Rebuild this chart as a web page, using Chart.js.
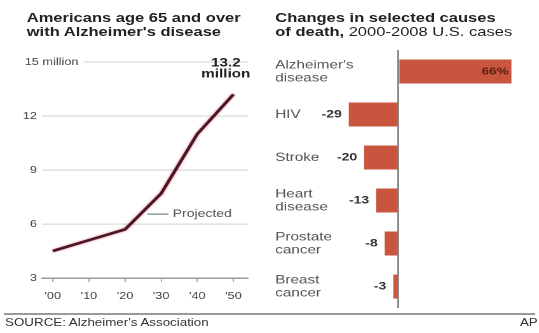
<!DOCTYPE html>
<html>
<head>
<meta charset="utf-8">
<script src="https://cdn.jsdelivr.net/npm/chart.js@4/dist/chart.umd.min.js"></script>
<style>
  body { margin: 0; background: #fff; font-family: "Liberation Sans", Arial, sans-serif; }
  #wrap { position: absolute; left: 0; top: 0; width: 424px; height: 333px; transform: scaleX(1.2712); transform-origin: 0 0; }
  .title { position: absolute; top: 11px; font-size: 13px; line-height: 14px; font-weight: bold; color: #222; white-space: nowrap; }
  .title span { font-weight: normal; }
  #leftBox { position: absolute; left: 0; top: 40px; width: 212px; height: 270px; }
  #rightBox { position: absolute; left: 212px; top: 40px; width: 212px; height: 275px; }
  #rule { position: absolute; left: 3px; top: 313px; width: 418px; height: 2px; background: #9a9a9a; }
  .foot { position: absolute; top: 316px; font-size: 10.5px; color: #333; white-space: nowrap; }
</style>
</head>
<body>
<div id="wrap">
  <div class="title" style="left:21px">Americans age 65 and over<br>with Alzheimer's disease</div>
  <div class="title" style="left:216.5px">Changes in selected causes<br>of death,<span> 2000-2008 U.S. cases</span></div>
  <div id="leftBox"><canvas id="lineChart"></canvas></div>
  <div id="rightBox"><canvas id="barChart"></canvas></div>
  <div id="rule"></div>
  <div class="foot" style="left:4px">SOURCE: Alzheimer's Association</div>
  <div class="foot" style="right:1px">AP</div>
</div>
<script>
// left chart: millions of Americans 65+ with Alzheimer's
var years = [2000, 2010, 2020, 2030, 2040, 2050];
var alzMillions = [4.5, 5.1, 5.7, 7.7, 11.0, 13.2];
var yTicks = [3, 6, 9, 12, 15];

// right chart: percent change 2000-2008
var causes = [["Alzheimer's", "disease"], "HIV", "Stroke", ["Heart", "disease"], ["Prostate", "cancer"], ["Breast", "cancer"]];
var pctChange = [66, -29, -20, -13, -8, -3];

var FONT = '"Liberation Sans", Arial, sans-serif';
Chart.defaults.font.family = FONT;

var lineExtras = {
  id: 'lineExtras',
  beforeDatasetsDraw: function(chart) {
    var ctx = chart.ctx;
    ctx.save();
    ctx.shadowColor = 'rgba(225,70,95,0.75)';
    ctx.shadowBlur = 4;
  },
  afterDatasetsDraw: function(chart) {
    chart.ctx.restore();
  },
  afterDraw: function(chart) {
    var ctx = chart.ctx;
    var xs = chart.scales.x, ys = chart.scales.y;
    var area = chart.chartArea;
    ctx.save();
    // "15 million" label with its shortened grid line
    var y15 = ys.getPixelForValue(15);
    ctx.font = '10px ' + FONT;
    ctx.fillStyle = '#444';
    ctx.textAlign = 'left';
    ctx.textBaseline = 'middle';
    var lx = ys.right - 13.5;
    ctx.fillText('15 million', lx, y15);
    var w = ctx.measureText('15 million').width;
    ctx.strokeStyle = '#dadada';
    ctx.lineWidth = 1.2;
    ctx.beginPath();
    ctx.moveTo(lx + w + 4, y15);
    ctx.lineTo(area.right, y15);
    ctx.stroke();

    // end value label
    var pts = chart.getDatasetMeta(0).data;
    var p = pts[pts.length - 1];
    ctx.font = 'bold 12px ' + FONT;
    ctx.fillStyle = '#222';
    ctx.textAlign = 'center';
    ctx.fillText('13.2', p.x - 6, p.y - 31);
    ctx.fillText('million', p.x - 6, p.y - 20);

    // "Projected" note
    var yp = ys.getPixelForValue(6.55);
    ctx.strokeStyle = '#8c9ba2';
    ctx.lineWidth = 1.5;
    ctx.beginPath();
    ctx.moveTo(xs.getPixelForValue(2026.2), yp);
    ctx.lineTo(xs.getPixelForValue(2032), yp);
    ctx.stroke();
    ctx.font = '11px ' + FONT;
    ctx.fillStyle = '#555';
    ctx.textAlign = 'left';
    ctx.fillText('Projected', xs.getPixelForValue(2033.2), yp);
    ctx.restore();
  }
};

var lineChart = new Chart(document.getElementById('lineChart'), {
  type: 'line',
  data: {
    datasets: [{
      data: years.map(function(y, i) { return { x: y, y: alzMillions[i] }; }),
      borderColor: '#4a1824',
      borderWidth: 2.6,
      pointRadius: 0,
      tension: 0,
      fill: false
    }]
  },
  options: {
    responsive: true,
    maintainAspectRatio: false,
    animation: false,
    devicePixelRatio: 2,
    layout: { padding: { top: 22, bottom: 2, left: 0, right: 17 } },
    plugins: { legend: { display: false }, tooltip: { enabled: false } },
    scales: {
      x: {
        type: 'linear',
        min: 1997,
        max: 2054,
        afterBuildTicks: function(s) { s.ticks = years.map(function(v) { return { value: v }; }); },
        afterFit: function(s) { s.height = 30; },
        ticks: {
          padding: 8,
          color: '#444',
          font: { size: 10 },
          callback: function(v) { return "'" + String(v).slice(2); }
        },
        grid: { drawOnChartArea: false, drawTicks: true, tickLength: 4, color: '#aaa' },
        border: { color: '#9a9a9a', width: 1.5 }
      },
      y: {
        min: 3,
        max: 15,
        afterBuildTicks: function(s) { s.ticks = yTicks.map(function(v) { return { value: v }; }); },
        afterFit: function(s) { s.width = 33; },
        ticks: {
          padding: 4,
          color: '#444',
          font: { size: 10 },
          callback: function(v) { return v === 15 ? '' : v; }
        },
        grid: {
          drawTicks: false,
          lineWidth: 1.2,
          color: function(c) { return (c.tick && c.tick.value === 15) ? 'rgba(0,0,0,0)' : '#dadada'; }
        },
        border: { display: false }
      }
    }
  },
  plugins: [lineExtras]
});

var barLabels = {
  id: 'barLabels',
  afterDatasetsDraw: function(chart) {
    var ctx = chart.ctx;
    var meta = chart.getDatasetMeta(0);
    var ys = chart.scales.y;
    ctx.save();
    ctx.textBaseline = 'middle';
    // category names, left aligned in the axis box
    ctx.textAlign = 'left';
    ctx.font = '12px ' + FONT;
    ctx.fillStyle = '#555';
    causes.forEach(function(c, i) {
      var lines = Array.isArray(c) ? c : [c];
      var yc = ys.getPixelForValue(i);
      lines.forEach(function(t, j) {
        ctx.fillText(t, ys.left, yc + (j - (lines.length - 1) / 2) * 13);
      });
    });
    // values
    ctx.textAlign = 'right';
    meta.data.forEach(function(bar, i) {
      var v = pctChange[i];
      if (v > 0) {
        ctx.font = 'bold 10.5px ' + FONT;
        ctx.fillStyle = '#5a1e14';
        ctx.fillText(v + '%', bar.x - 2.5, bar.y);
      } else {
        ctx.font = 'bold 11px ' + FONT;
        ctx.fillStyle = '#333';
        ctx.fillText(String(v), Math.min(bar.x, bar.base) - 5.5, bar.y);
      }
    });
    ctx.restore();
  }
};

var barChart = new Chart(document.getElementById('barChart'), {
  type: 'bar',
  data: {
    labels: causes,
    datasets: [{
      data: pctChange,
      backgroundColor: '#c8553d',
      borderWidth: 0,
      barPercentage: 0.56,
      categoryPercentage: 1
    }]
  },
  options: {
    indexAxis: 'y',
    responsive: true,
    maintainAspectRatio: false,
    animation: false,
    devicePixelRatio: 2,
    layout: { padding: { top: 10, bottom: 7, left: 4.5, right: 21.6 } },
    plugins: { legend: { display: false }, tooltip: { enabled: false } },
    scales: {
      x: {
        min: -36,
        max: 66,
        afterBuildTicks: function(s) { s.ticks = [{ value: 0 }]; },
        afterFit: function(s) { s.height = 0; },
        ticks: { display: false },
        grid: { color: '#888', lineWidth: 1.5, drawTicks: false },
        border: { display: false }
      },
      y: {
        afterFit: function(s) { s.width = 48.4; },
        ticks: { display: false },
        grid: { display: false },
        border: { display: false }
      }
    }
  },
  plugins: [barLabels]
});
</script>
</body>
</html>
